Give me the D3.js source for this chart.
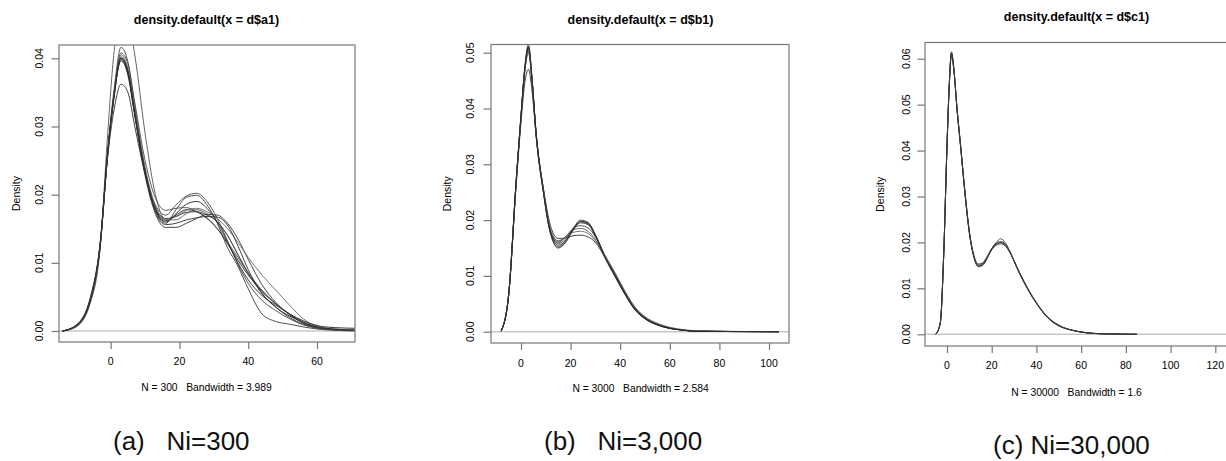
<!DOCTYPE html>
<html>
<head>
<meta charset="utf-8">
<script src="https://cdn.jsdelivr.net/npm/d3@7"></script>
<style>
body { margin: 0; background: #fff; }
svg { display: block; font-family: "Liberation Sans", Arial, sans-serif; }
</style>
</head>
<body>
<svg id="chart" width="1226" height="461"></svg>
<script>
'use strict'

// x positions the density curves are read at (one grid per panel)
let grid_a = [-14, -10, -6, -3, -1, 1, 3, 5, 7, 10, 13, 16, 19, 22, 25, 28, 31, 34, 37, 40, 44, 48, 52, 56, 60, 65, 71]
let grid_b = [-8, -5, -2, 0, 1.5, 3, 4.5, 6, 9, 12, 15, 18, 21, 24, 27, 30, 34, 38, 42, 46, 50, 55, 60, 65, 70, 85, 104]
let grid_c = [-5, -3, -1.5, 0, 1, 2, 3, 4.5, 6, 8, 10, 12, 14, 16, 18, 20, 22, 24, 26, 28, 32, 36, 40, 45, 50, 55, 60, 70, 85]

// Ni = 300
let curves_a = [
	[0, .0008, .0045, .0130, .0255, .0345, .0398, .0375, .0315, .0232, .0180, .0162, .0170, .0178, .0175, .0166, .0150, .0128, .0104, .0082, .0058, .0040, .0025, .0012, .0005, .0002, .0001],
	[0, .0007, .0042, .0128, .0258, .0355, .0416, .0395, .0330, .0240, .0185, .0170, .0185, .0198, .0202, .0190, .0165, .0132, .0098, .0070, .0045, .0030, .0018, .0009, .0004, .0002, .0001],
	[0, .0009, .0048, .0132, .0250, .0325, .0362, .0350, .0300, .0230, .0182, .0165, .0168, .0174, .0175, .0170, .0160, .0140, .0112, .0085, .0055, .0035, .0020, .0010, .0005, .0002, .0001],
	[0, .0006, .0040, .0125, .0280, .0410, .0460, .0455, .0405, .0290, .0200, .0163, .0163, .0172, .0178, .0172, .0160, .0140, .0112, .0085, .0058, .0040, .0025, .0013, .0006, .0002, .0001],
	[0, .0008, .0044, .0128, .0252, .0345, .0402, .0380, .0318, .0228, .0172, .0152, .0152, .0158, .0165, .0171, .0170, .0158, .0135, .0105, .0068, .0042, .0024, .0012, .0005, .0002, .0001],
	[0, .0008, .0046, .0132, .0256, .0348, .0396, .0378, .0320, .0235, .0178, .0158, .0178, .0196, .0199, .0185, .0158, .0122, .0095, .0062, .0025, .0014, .0010, .0006, .0003, .0001, 0],
	[0, .0007, .0043, .0127, .0250, .0342, .0405, .0385, .0322, .0236, .0182, .0163, .0168, .0177, .0180, .0175, .0165, .0150, .0130, .0108, .0082, .0060, .0038, .0018, .0007, .0003, .0001],
	[0, .0008, .0045, .0130, .0254, .0347, .0400, .0380, .0318, .0233, .0178, .0160, .0172, .0186, .0190, .0180, .0160, .0130, .0100, .0075, .0052, .0038, .0025, .0015, .0008, .0005, .0004],
	[0, .0008, .0044, .0128, .0252, .0350, .0408, .0392, .0335, .0250, .0195, .0177, .0180, .0181, .0175, .0165, .0150, .0130, .0108, .0085, .0060, .0040, .0024, .0012, .0005, .0002, .0001],
	[0, .0008, .0044, .0129, .0253, .0346, .0400, .0382, .0320, .0232, .0175, .0156, .0158, .0163, .0166, .0168, .0167, .0155, .0125, .0090, .0055, .0035, .0022, .0013, .0006, .0003, .0001]
]

// Ni = 3,000
let curves_b = [
	[.0001, .0065, .0265, .0385, .0470, .0512, .0450, .0360, .0254, .0178, .0155, .0163, .0183, .0197, .0193, .0172, .0133, .0100, .0068, .0040, .0024, .0013, .0006, .0003, .0001, .00003, 0],
	[.0001, .0066, .0268, .0388, .0468, .0505, .0448, .0362, .0252, .0175, .0152, .0162, .0185, .0200, .0196, .0174, .0134, .0099, .0067, .0039, .0023, .0012, .0006, .0003, .0001, .00003, 0],
	[.0001, .0064, .0260, .0375, .0445, .0470, .0430, .0355, .0258, .0188, .0167, .0168, .0172, .0173, .0170, .0160, .0132, .0102, .0070, .0042, .0025, .0013, .0006, .0003, .0001, .00003, 0],
	[.0001, .0065, .0266, .0388, .0474, .0515, .0452, .0358, .0250, .0176, .0160, .0170, .0183, .0185, .0180, .0165, .0132, .0101, .0069, .0041, .0024, .0013, .0007, .0003, .0001, .00004, 0],
	[.0001, .0064, .0264, .0386, .0469, .0508, .0449, .0361, .0256, .0180, .0158, .0166, .0184, .0195, .0192, .0172, .0134, .0101, .0068, .0040, .0024, .0013, .0006, .0003, .0001, .00003, 0],
	[.0001, .0066, .0266, .0384, .0464, .0500, .0444, .0356, .0252, .0178, .0162, .0170, .0185, .0190, .0186, .0170, .0135, .0104, .0071, .0043, .0026, .0014, .0007, .0003, .0001, .00004, 0],
	[.0001, .0065, .0263, .0383, .0466, .0503, .0446, .0358, .0255, .0182, .0163, .0170, .0178, .0180, .0176, .0163, .0136, .0105, .0072, .0044, .0027, .0015, .0008, .0004, .0002, .00005, 0],
	[.0001, .0065, .0265, .0386, .0470, .0510, .0450, .0360, .0252, .0174, .0150, .0160, .0182, .0198, .0195, .0173, .0131, .0098, .0066, .0039, .0023, .0012, .0006, .0003, .0001, .00003, 0]
]

// Ni = 30,000
let curves_c = [
	[0, .0025, .0170, .0410, .0540, .0612, .0580, .0490, .0415, .0310, .0222, .0170, .0150, .0153, .0168, .0185, .0196, .0200, .0195, .0180, .0138, .0100, .0068, .0037, .0019, .0010, .0005, .0001, 0],
	[0, .0026, .0172, .0412, .0545, .0615, .0582, .0488, .0412, .0308, .0220, .0168, .0147, .0150, .0166, .0186, .0200, .0208, .0200, .0182, .0137, .0099, .0067, .0036, .0018, .0010, .0005, .0001, 0],
	[0, .0025, .0169, .0408, .0538, .0608, .0578, .0491, .0416, .0312, .0224, .0172, .0153, .0155, .0168, .0184, .0194, .0197, .0193, .0179, .0139, .0101, .0069, .0038, .0020, .0010, .0005, .0001, 0],
	[0, .0024, .0168, .0409, .0541, .0610, .0579, .0489, .0414, .0311, .0223, .0171, .0152, .0156, .0170, .0187, .0197, .0199, .0194, .0180, .0138, .0100, .0068, .0037, .0019, .0010, .0005, .0001, 0],
	[0, .0025, .0171, .0411, .0542, .0613, .0581, .0490, .0413, .0309, .0221, .0169, .0148, .0151, .0166, .0186, .0198, .0202, .0197, .0181, .0137, .0099, .0068, .0037, .0019, .0010, .0005, .0001, 0]
]

let titles = ['density.default(x = d$a1)', 'density.default(x = d$b1)', 'density.default(x = d$c1)']
let subtitles = ['N = 300   Bandwidth = 3.989', 'N = 3000   Bandwidth = 2.584', 'N = 30000   Bandwidth = 1.6']
let captions = ['(a)   Ni=300', '(b)   Ni=3,000', '(c) Ni=30,000']
let x_ticks = [[0, 20, 40, 60], [0, 20, 40, 60, 80, 100], [0, 20, 40, 60, 80, 100, 120]]
let y_ticks = [[0, .01, .02, .03, .04], [0, .01, .02, .03, .04, .05], [0, .01, .02, .03, .04, .05, .06]]

// pixel layout of each panel (box edges, scale anchors, text rows)
let panels = [
	{grid: grid_a, curves: curves_a, box: {l: 59, r: 355, t: 45, b: 342},
	 xd: [0, 60], xr: [110.7, 317], yd: [0, .04], yr: [331, 58.3],
	 titleX: 206.5, titleY: 24, subY: 390.5, tickY: 365, densX: 20, ytX: 43, capX: 113, capY: 450},
	{grid: grid_b, curves: curves_b, box: {l: 491, r: 789, t: 44.5, b: 343},
	 xd: [0, 100], xr: [521, 769], yd: [0, .05], yr: [331.7, 52.7],
	 titleX: 640.5, titleY: 24, subY: 392, tickY: 366.5, densX: 450.5, ytX: 474, capX: 544, capY: 450},
	{grid: grid_c, curves: curves_c, box: {l: 925, r: 1232, t: 42.5, b: 346},
	 xd: [0, 120], xr: [947, 1215.3], yd: [0, .06], yr: [334.3, 58.7],
	 titleX: 1076.5, titleY: 21, subY: 396, tickY: 369, densX: 884, ytX: 910, capX: 993, capY: 454}
]

let line_colors = ['#222', '#444', '#2a2a2a', '#555', '#333', '#3a3a3a', '#666', '#222', '#4a4a4a', '#2e2e2e']

let svg = d3.select('#chart')
let yfmt = d3.format('.2f')

panels.forEach(function(p, pi){
	let xScale = d3.scaleLinear().domain(p.xd).range(p.xr)
	let yScale = d3.scaleLinear().domain(p.yd).range(p.yr)
	let g = svg.append('g')

	g.append('clipPath').attr('id', 'clip' + pi)
		.append('rect')
		.attr('x', p.box.l).attr('y', p.box.t)
		.attr('width', p.box.r - p.box.l).attr('height', p.box.b - p.box.t)

	let plot = g.append('g').attr('clip-path', 'url(#clip' + pi + ')')

	// grey zero line
	plot.append('line')
		.attr('x1', p.box.l).attr('x2', p.box.r)
		.attr('y1', yScale(0)).attr('y2', yScale(0))
		.attr('stroke', '#c8c8c8').attr('stroke-width', 1.5)

	let line = d3.line()
		.x(function(d){ return xScale(d[0]) })
		.y(function(d){ return yScale(d[1]) })
		.curve(d3.curveMonotoneX)

	plot.selectAll('.dens')
		.data(p.curves)
		.enter()
		.append('path')
		.attr('class', 'dens')
		.attr('fill', 'none')
		.attr('stroke', function(d, i){ return line_colors[i % line_colors.length] })
		.attr('stroke-width', 0.9)
		.attr('d', function(ys){
			return line(p.grid.map(function(x, i){ return [x, ys[i]] }))
		})

	// box
	g.append('rect')
		.attr('x', p.box.l).attr('y', p.box.t)
		.attr('width', p.box.r - p.box.l).attr('height', p.box.b - p.box.t)
		.attr('fill', 'none').attr('stroke', '#777').attr('stroke-width', 1.2)

	// x axis
	let xa = g.append('g')
		.attr('transform', 'translate(0,' + p.box.b + ')')
		.call(d3.axisBottom(xScale).tickValues(x_ticks[pi]).tickSize(7))
	xa.select('.domain').remove()
	xa.selectAll('line').attr('stroke', '#777').attr('stroke-width', 1.2)
	xa.selectAll('text').remove()
	g.selectAll('.xlab')
		.data(x_ticks[pi])
		.enter()
		.append('text')
		.attr('x', function(d){ return xScale(d) })
		.attr('y', p.tickY)
		.attr('text-anchor', 'middle')
		.style('font-size', '10.5px')
		.text(function(d){ return d })

	// y axis
	let ya = g.append('g')
		.attr('transform', 'translate(' + p.box.l + ',0)')
		.call(d3.axisLeft(yScale).tickValues(y_ticks[pi]).tickSize(7.5))
	ya.select('.domain').remove()
	ya.selectAll('line').attr('stroke', '#777').attr('stroke-width', 1.2)
	ya.selectAll('text').remove()
	g.selectAll('.ylab')
		.data(y_ticks[pi])
		.enter()
		.append('text')
		.attr('transform', function(d){ return 'translate(' + p.ytX + ',' + yScale(d) + ') rotate(-90)' })
		.attr('text-anchor', 'middle')
		.style('font-size', '10.5px')
		.text(function(d){ return yfmt(d) })

	g.append('text')
		.attr('transform', 'translate(' + p.densX + ',' + ((p.box.t + p.box.b) / 2) + ') rotate(-90)')
		.attr('text-anchor', 'middle')
		.style('font-size', '10.5px')
		.text('Density')

	g.append('text')
		.attr('x', p.titleX).attr('y', p.titleY)
		.attr('text-anchor', 'middle')
		.style('font-size', '12.5px').style('font-weight', 'bold')
		.text(titles[pi])

	g.append('text')
		.attr('x', p.titleX).attr('y', p.subY)
		.attr('text-anchor', 'middle')
		.style('font-size', '10.3px')
		.style('white-space', 'pre')
		.text(subtitles[pi])

	g.append('text')
		.attr('x', p.capX).attr('y', p.capY)
		.style('font-size', '26px')
		.style('white-space', 'pre')
		.attr('fill', '#111')
		.text(captions[pi])
})
</script>
</body>
</html>
